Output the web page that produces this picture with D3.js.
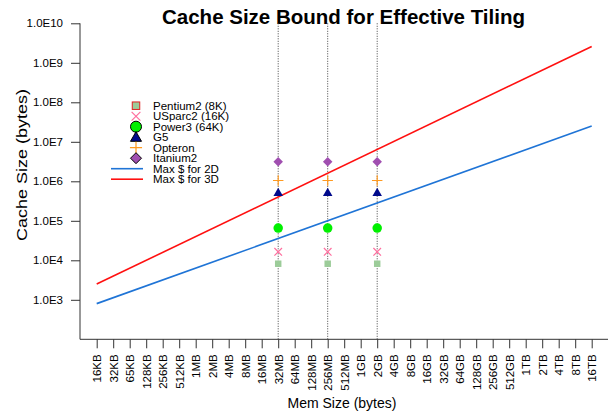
<!DOCTYPE html>
<html>
<head>
<meta charset="utf-8">
<script src="https://cdn.jsdelivr.net/npm/d3@7"></script>
<style>
  html, body { margin: 0; padding: 0; background: #fff; }
  svg { display: block; font-family: Arial, "Liberation Sans", Helvetica, sans-serif; }
</style>
</head>
<body>
<svg id="chart" width="611" height="413"></svg>
<script>
// Memory sizes along the x axis (powers of two)
const memLabels = ["16KB","32KB","65KB","128KB","256KB","512KB","1MB","2MB","4MB","8MB",
  "16MB","32MB","64MB","128MB","256MB","512MB","1GB","2GB","4GB","8GB","16GB","32GB",
  "64GB","128GB","256GB","512GB","1TB","2TB","4TB","8TB","16TB"];

// Cache-size tick values and their labels
const cacheTicks = [1e3, 1e4, 1e5, 1e6, 1e7, 1e8, 1e9, 1e10];
const cacheTickLabels = ["1.0E3","1.0E4","1.0E5","1.0E6","1.0E7","1.0E8","1.0E9","1.0E10"];

// Machine memory sizes marked with vertical guides
const systemMems = ["32MB", "256MB", "2GB"];

// Processors and their cache sizes (bytes)
const procNames = ["Pentium2 (8K)", "USparc2 (16K)", "Power3 (64K)", "G5", "Opteron", "Itanium2"];
const procCache = [8192, 16384, 65536, 524288, 1048576, 3145728];

// Maximum cache size bounds (mem size, bytes)
const bound2D = [["16KB", 800], ["16TB", 2.5e7]];
const bound3D = [["16KB", 2500], ["16TB", 2.6e9]];

const svg = d3.select("#chart");
const step = 16.5;
const x = d3.scalePoint().domain(memLabels).range([96.7, 96.7 + step * (memLabels.length - 1)]);
const y = d3.scaleLog().domain([1e2, 1e10]).range([339.3, 23.3]);
const x0 = 80, x1 = 608, yBottom = y(1e2), yTop = y(1e10);

// Title
svg.append("text").attr("x", 343.5).attr("y", 24).attr("text-anchor", "middle")
  .attr("font-size", 20.5).attr("font-weight", "bold").text("Cache Size Bound for Effective Tiling");

// Axes
const axisColor = "#333";
svg.append("path").attr("d", `M${x0},${yTop}V${yBottom}H${x1}`)
  .attr("fill", "none").attr("stroke", axisColor).attr("stroke-width", 1);

const yAxis = d3.axisLeft(y).tickValues(cacheTicks)
  .tickFormat((d, i) => cacheTickLabels[i]).tickSize(9).tickPadding(8);
const gy = svg.append("g").attr("transform", `translate(${x0},0)`).call(yAxis);
gy.select(".domain").remove();
gy.selectAll(".tick line").attr("stroke", axisColor);
gy.selectAll(".tick text").attr("font-size", 11.5).attr("font-family", null).attr("fill", "#000");

const xAxis = d3.axisBottom(x).tickSize(9).tickPadding(0);
const gx = svg.append("g").attr("transform", `translate(0,${yBottom})`).call(xAxis);
gx.select(".domain").remove();
gx.selectAll(".tick line").attr("stroke", axisColor);
gx.selectAll(".tick text").attr("font-size", 11.5).attr("font-family", null).attr("fill", "#000")
  .attr("text-anchor", "end").attr("dy", "0.35em")
  .attr("transform", "translate(0,15) rotate(-90)").attr("y", 0).attr("x", 0);

// Axis titles
svg.append("text").attr("x", 342).attr("y", 408).attr("text-anchor", "middle")
  .attr("font-size", 14).text("Mem Size (bytes)");
svg.append("text").attr("transform", "translate(27,165) rotate(-90)").attr("text-anchor", "middle")
  .attr("font-size", 14).attr("textLength", 152).attr("lengthAdjust", "spacingAndGlyphs")
  .text("Cache Size (bytes)");

// Vertical guides at machine memory sizes
svg.append("g").selectAll("line").data(systemMems).join("line")
  .attr("x1", d => x(d)).attr("x2", d => x(d)).attr("y1", yTop).attr("y2", yBottom)
  .attr("stroke", "#444").attr("stroke-width", 1).attr("stroke-dasharray", "1,1.5");

// Bound lines
const line = d3.line().x(d => x(d[0])).y(d => y(d[1]));
svg.append("path").datum(bound2D).attr("d", line).attr("fill", "none")
  .attr("stroke", "#1f74d6").attr("stroke-width", 1.6);
svg.append("path").datum(bound3D).attr("d", line).attr("fill", "none")
  .attr("stroke", "#ff1010").attr("stroke-width", 1.6);

// Marker shapes, with and without outline (legend uses outlines)
const markerStyles = [
  { fill: "#9ccc99", stroke: "#e02020", kind: "square", r: 4 },
  { fill: "none", stroke: "#ff6f9f", kind: "times", r: 4 },
  { fill: "#00f000", stroke: "#000", kind: "circle", r: 5 },
  { fill: "#000a8c", stroke: "#000", kind: "triangle", r: 5 },
  { fill: "none", stroke: "#ff9a20", kind: "plus", r: 5.5 },
  { fill: "#a04fb0", stroke: "#000", kind: "diamond", r: 5 }
];

function drawMarker(g, st, cx, cy, outlined, scale) {
  const r = st.r * scale;
  let el;
  if (st.kind === "square") {
    el = g.append("rect").attr("x", cx - r * 0.85).attr("y", cy - r * 0.85)
      .attr("width", r * 1.7).attr("height", r * 1.7).attr("fill", st.fill);
  } else if (st.kind === "circle") {
    el = g.append("circle").attr("cx", cx).attr("cy", cy).attr("r", r).attr("fill", st.fill);
  } else if (st.kind === "triangle") {
    el = g.append("path").attr("d", `M${cx},${cy - r}L${cx + r},${cy + r * 0.75}L${cx - r},${cy + r * 0.75}Z`)
      .attr("fill", st.fill);
  } else if (st.kind === "diamond") {
    el = g.append("path").attr("d", `M${cx},${cy - r}L${cx + r},${cy}L${cx},${cy + r}L${cx - r},${cy}Z`)
      .attr("fill", st.fill);
  } else if (st.kind === "times") {
    g.append("path").attr("d", `M${cx - r},${cy - r}L${cx + r},${cy + r}M${cx - r},${cy + r}L${cx + r},${cy - r}`)
      .attr("fill", "none").attr("stroke", st.stroke).attr("stroke-width", 1.2);
    return;
  } else {
    g.append("path").attr("d", `M${cx - r},${cy}H${cx + r}M${cx},${cy - r}V${cy + r}`)
      .attr("fill", "none").attr("stroke", st.stroke).attr("stroke-width", 1.2);
    return;
  }
  if (outlined) el.attr("stroke", st.stroke).attr("stroke-width", 1);
  else el.attr("stroke", "none");
}

// Processor cache markers at each machine memory size
const gm = svg.append("g");
systemMems.forEach(m => {
  procCache.forEach((c, i) => drawMarker(gm, markerStyles[i], x(m), y(c), false, 0.95));
});

// Legend
const lg = svg.append("g");
const legX = 136, legTextX = 153, legY0 = 105.7, legStep = 10.5;
procNames.forEach((name, i) => {
  const ly = legY0 + i * legStep;
  drawMarker(lg, markerStyles[i], legX, ly, true, 1.1);
  lg.append("text").attr("x", legTextX).attr("y", ly).attr("dy", "0.35em")
    .attr("font-size", 11.5).text(name);
});
[["Max $ for 2D", "#1f74d6"], ["Max $ for 3D", "#ff1010"]].forEach((d, j) => {
  const ly = legY0 + (procNames.length + j) * legStep;
  lg.append("line").attr("x1", 111).attr("x2", 143).attr("y1", ly).attr("y2", ly)
    .attr("stroke", d[1]).attr("stroke-width", 1.6);
  lg.append("text").attr("x", legTextX).attr("y", ly).attr("dy", "0.35em")
    .attr("font-size", 11.5).text(d[0]);
});
</script>
</body>
</html>
